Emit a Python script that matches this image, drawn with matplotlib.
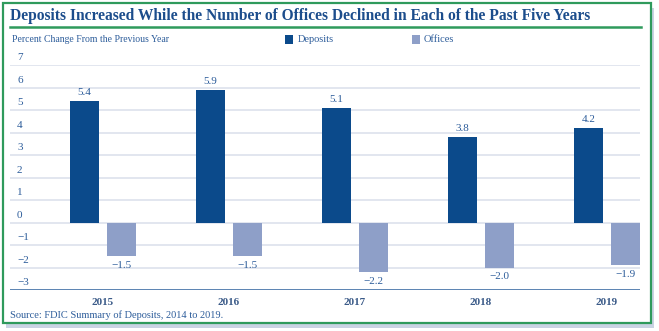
import matplotlib.pyplot as plt
from matplotlib.patches import Rectangle
import numpy as np

years = ["2015", "2016", "2017", "2018", "2019"]
deposits = [5.4, 5.9, 5.1, 3.8, 4.2]
offices = [-1.5, -1.5, -2.2, -2.0, -1.9]
yticks = [7, 6, 5, 4, 3, 2, 1, 0, -1, -2, -3]

dep_color = "#0b4a8b"
off_color = "#8e9fc8"
text_color = "#2c5c9a"
grid_color = "#dde1ec"
green = "#2f9a5c"

plt.rcParams["font.family"] = ["Liberation Serif", "DejaVu Serif"]

fig = plt.figure(figsize=(6.59, 3.31), dpi=100)

# shadow + green frame
fig.patches.append(Rectangle((6 / 659, 1 - 328 / 331), 648 / 659, 320 / 331,
                             transform=fig.transFigure, facecolor="#c9d3e3",
                             edgecolor="none", zorder=0))
fig.patches.append(Rectangle((3 / 659, 1 - 323 / 331), 648 / 659, 320 / 331,
                             transform=fig.transFigure, facecolor="white",
                             edgecolor=green, linewidth=1.6, zorder=1))
fig.lines.append(plt.Line2D([10 / 659, 641 / 659], [1 - 27 / 331, 1 - 27 / 331],
                            transform=fig.transFigure, color=green, linewidth=1.8))

fig.text(10 / 659, 1 - 16 / 331, "Deposits Increased While the Number of Offices Declined in Each of the Past Five Years",
         fontsize=11.2, fontweight="bold", color="#1c4d8c", va="center", ha="left")
fig.text(12 / 659, 1 - 40 / 331, "Percent Change From the Previous Year",
         fontsize=7, color=text_color, va="center", ha="left")

# legend
fig.patches.append(Rectangle((285 / 659, 1 - 44 / 331), 8 / 659, 9 / 331,
                             transform=fig.transFigure, facecolor=dep_color, edgecolor="none"))
fig.text(298 / 659, 1 - 40 / 331, "Deposits", fontsize=7.5, color=text_color, va="center")
fig.patches.append(Rectangle((412 / 659, 1 - 44 / 331), 8 / 659, 9 / 331,
                             transform=fig.transFigure, facecolor=off_color, edgecolor="none"))
fig.text(424 / 659, 1 - 40 / 331, "Offices", fontsize=7.5, color=text_color, va="center")

ax = fig.add_axes([10 / 659, 1 - 290 / 331, 630 / 659, 225 / 331])
ax.set_zorder(2)
ax.patch.set_alpha(0)

x = np.arange(len(years))
w = 0.23
off = 0.146
ax.bar(x - off, deposits, w, color=dep_color, zorder=3)
ax.bar(x + off, offices, w, color=off_color, zorder=3)

for xi, v in zip(x, deposits):
    ax.text(xi - off, v + 0.18, f"{v:.1f}", ha="center", va="bottom", fontsize=8, color=text_color)
for xi, v in zip(x, offices):
    ax.text(xi + off, v - 0.2, f"\u2212{abs(v):.1f}", ha="center", va="top", fontsize=8, color=text_color)

ax.set_xlim(-0.736, 4.264)
ax.set_ylim(-3, 7)
for t in yticks:
    if t != -3:
        ax.axhline(t, color=grid_color, linewidth=1.2, zorder=1)
    lab = str(t) if t >= 0 else f"\u2212{abs(t)}"
    ax.text(-0.68, t + 0.12, lab, ha="left", va="bottom", fontsize=8, color=text_color)
ax.axhline(-3, color="#2a5e9c", linewidth=1.8, zorder=4)

for xi, yr in zip(x, years):
    ax.text(xi, -3.35, yr, ha="center", va="top", fontsize=8, fontweight="bold", color="#3a5a88")

for s in ax.spines.values():
    s.set_visible(False)
ax.set_xticks([])
ax.set_yticks([])

fig.text(10 / 659, 1 - 315 / 331, "Source: FDIC Summary of Deposits, 2014 to 2019.",
         fontsize=7.5, color=text_color, va="center", ha="left")

fig.savefig("out.png", dpi=100)
